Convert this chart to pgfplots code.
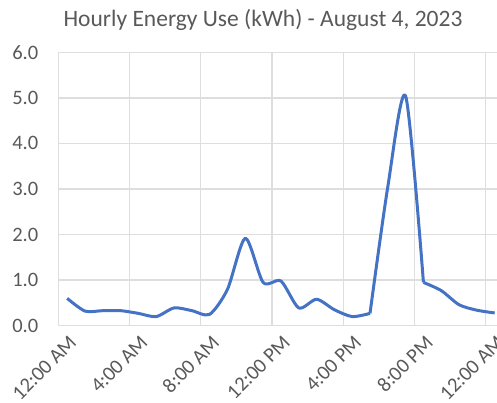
\documentclass[border=0pt]{standalone}
\usepackage{fontspec}
\setmainfont{Carlito}
\usepackage{pgfplots}
\pgfplotsset{compat=1.18}
\usetikzlibrary{calc}
\definecolor{xlblue}{RGB}{68,114,196}
\definecolor{xltext}{RGB}{89,89,89}
\definecolor{xlgrid}{RGB}{222,222,222}

\begin{document}
\begin{tikzpicture}
  \begin{axis}[
    scale only axis, width=438.7bp, height=273.4bp,
    xmin=0, xmax=24.63, ymin=0, ymax=6,
    xtick={0,4,8,12,16,20,24},
    xticklabels={12:00 AM,4:00 AM,8:00 AM,12:00 PM,4:00 PM,8:00 PM,12:00 AM},
    ytick={0,1,...,6},
    yticklabel={\pgfmathprintnumber[fixed,fixed zerofill,precision=1]{\tick}},
    /pgf/number format/assume math mode=true,
    tick style={draw=none},
    axis line style={draw=none},
    grid=major, major grid style={xlgrid, line width=1.3bp},
    ticklabel style={font=\fontsize{20.5bp}{24bp}\selectfont, text=xltext},
    yticklabel style={anchor=east, xshift=-16.5bp},
    xticklabel style={rotate=45, anchor=north east, xshift=4.4bp, yshift=-9.6bp},
    title={Hourly Energy Use (kWh) - August 4, 2023},
    title style={font=\fontsize{23.5bp}{27bp}\selectfont, text=xltext,
      anchor=base, at={(axis description cs:0.4666,1)}, yshift=19.5bp},
    clip=false,
    energy/.style={xlblue, line width=3bp, smooth, tension=0.45, line join=round},
  ]
    % one day, hourly readings (kWh); knees of the curve split the line
    \addplot[energy] coordinates {
      (0.5,0.60) (1.5,0.32) (2.5,0.33) (3.5,0.33) (4.5,0.27) (5.5,0.20)
      (6.5,0.39) (7.5,0.33) (8.5,0.25) (9.5,0.80) (10.5,1.92) (11.5,0.95)
      (12.5,0.98) (13.5,0.39) (14.5,0.58) (15.5,0.35) (16.5,0.20) (17.5,0.27)
    };
    \addplot[energy] coordinates {
      (17.5,0.27) (18.5,3.05) (19.5,5.04) (20.5,0.95)
    };
    \addplot[energy] coordinates {
      (20.5,0.95) (21.5,0.77) (22.5,0.46) (23.5,0.34) (24.5,0.28)
    };
    \coordinate (sw) at (rel axis cs:0,0);
    \coordinate (ne) at (rel axis cs:1,1);
  \end{axis}
  \pgfresetboundingbox
  \useasboundingbox ($(sw)+(-58.3bp,-77.3bp)$) rectangle ($(ne)+(0bp,52.3bp)$);
\end{tikzpicture}
\end{document}
